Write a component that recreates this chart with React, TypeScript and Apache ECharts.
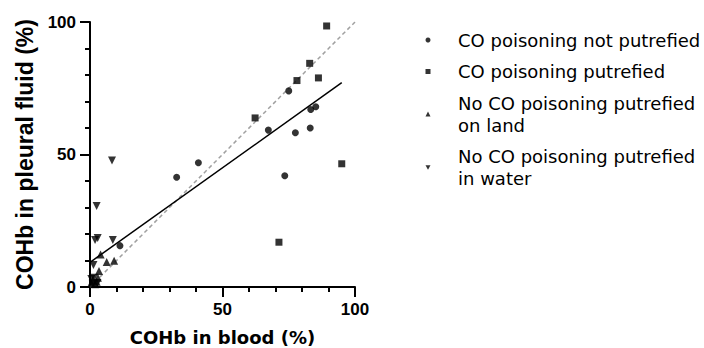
import React, { useEffect, useRef } from "react";
import * as echarts from "echarts";

const notPutrefiedX = [75.0, 83.3, 85.2, 67.3, 77.5, 83.1, 40.9, 32.7, 73.5, 11.3];
const notPutrefiedY = [74.0, 67.0, 68.0, 59.2, 58.2, 60.0, 46.9, 41.4, 42.0, 15.6];

const putrefiedX = [89.3, 82.9, 78.1, 86.2, 62.3, 95.0, 71.3];
const putrefiedY = [98.5, 84.4, 77.9, 78.9, 63.8, 46.5, 16.9];

const landX = [4.0, 6.3, 9.1, 3.4, 1.0, 2.5, 3.0, 2.0, 0.5];
const landY = [12.3, 9.4, 9.9, 6.0, 2.5, 2.0, 3.5, 1.0, 1.5];

const waterX = [8.3, 2.5, 1.9, 2.9, 8.6, 1.3, 0.5, 1.5, 2.8, 1.0];
const waterY = [47.7, 30.6, 17.7, 18.5, 17.7, 8.3, 3.0, 3.5, 1.5, 1.2];

const fitX = [0, 95];
const fitY = [9.3, 77.1];
const identityX = [0, 100];
const identityY = [0, 100];

const seriesNames = [
  "CO poisoning not putrefied",
  "CO poisoning putrefied",
  "No CO poisoning putrefied\non land",
  "No CO poisoning putrefied\nin water",
];

const xTitle = "COHb in blood (%)";
const yTitle = "COHb in pleural fluid (%)";

const zip = (xs: number[], ys: number[]) => xs.map((x, i) => [x, ys[i]]);

export default function App() {
  const ref = useRef<HTMLDivElement>(null);
  useEffect(() => {
    if (!ref.current) return;
    const chart = echarts.init(ref.current, null, { renderer: "svg" });
    const axisCommon = {
      type: "value" as const,
      min: 0,
      max: 100,
      interval: 50,
      axisLine: { show: true, onZero: false, lineStyle: { color: "#000", width: 2 } },
      axisTick: { show: true, inside: false, length: 10, lineStyle: { color: "#000", width: 2 } },
      minorTick: { show: true, splitNumber: 5, length: 5, lineStyle: { color: "#000", width: 2 } },
      splitLine: { show: false },
      axisLabel: {
        color: "#000",
        fontFamily: "Liberation Sans",
        fontWeight: "bold" as const,
        fontSize: 17,
      },
    };
    chart.setOption({
      animation: false,
      backgroundColor: "#fff",
      grid: {
        left: 90,
        right: 349,
        top: 22,
        bottom: 61,
        containLabel: false,
        outerBoundsMode: "none",
      },
      xAxis: {
        ...axisCommon,
        axisLabel: { ...axisCommon.axisLabel, margin: 14 },
        name: xTitle,
        nameLocation: "middle",
        nameGap: 40,
        nameTextStyle: {
          color: "#000",
          fontFamily: "DejaVu Sans",
          fontSize: 18,
          lineHeight: 20,
          fontWeight: "bold",
        },
      },
      yAxis: {
        ...axisCommon,
        axisLabel: { ...axisCommon.axisLabel, margin: 14 },
        name: yTitle,
        nameLocation: "middle",
        nameGap: 54,
        nameTextStyle: {
          color: "#000",
          fontFamily: "Liberation Sans",
          fontSize: 23,
          fontWeight: "bold",
        },
      },
      legend: {
        orient: "vertical",
        left: 425.5,
        top: 29,
        padding: 0,
        itemGap: 9.5,
        itemWidth: 5,
        itemHeight: 5,
        data: [
          { name: seriesNames[0], icon: "circle" },
          { name: seriesNames[1], icon: "rect" },
          { name: seriesNames[2], icon: "triangle" },
          { name: seriesNames[3], icon: "path://M0,0L10,0L5,9Z" },
        ],
        textStyle: {
          color: "#000",
          fontFamily: "DejaVu Sans",
          fontSize: 18,
          lineHeight: 22,
          padding: [0, 0, 0, 22.5],
        },
      },
      series: [
        {
          type: "line",
          data: zip(identityX, identityY),
          symbol: "none",
          lineStyle: { color: "#a0a0a0", width: 1.5, type: [4, 3] },
          silent: true,
          z: 1,
        },
        {
          type: "line",
          data: zip(fitX, fitY),
          symbol: "none",
          lineStyle: { color: "#000", width: 1.5 },
          silent: true,
          z: 2,
        },
        {
          name: seriesNames[0],
          type: "scatter",
          data: zip(notPutrefiedX, notPutrefiedY),
          symbol: "circle",
          symbolSize: 7,
          itemStyle: { color: "#000" },
          z: 3,
        },
        {
          name: seriesNames[1],
          type: "scatter",
          data: zip(putrefiedX, putrefiedY),
          symbol: "rect",
          symbolSize: 7,
          itemStyle: { color: "#000" },
          z: 3,
        },
        {
          name: seriesNames[2],
          type: "scatter",
          data: zip(landX, landY),
          symbol: "triangle",
          symbolSize: 8,
          itemStyle: { color: "#000" },
          z: 3,
        },
        {
          name: seriesNames[3],
          type: "scatter",
          data: zip(waterX, waterY),
          symbol: "triangle",
          symbolRotate: 180,
          symbolSize: 8,
          itemStyle: { color: "#000" },
          z: 3,
        },
      ],
    });
    return () => chart.dispose();
  }, []);
  return <div ref={ref} style={{ width: 704, height: 348, position: "absolute", left: 0, top: 0 }} />;
}
